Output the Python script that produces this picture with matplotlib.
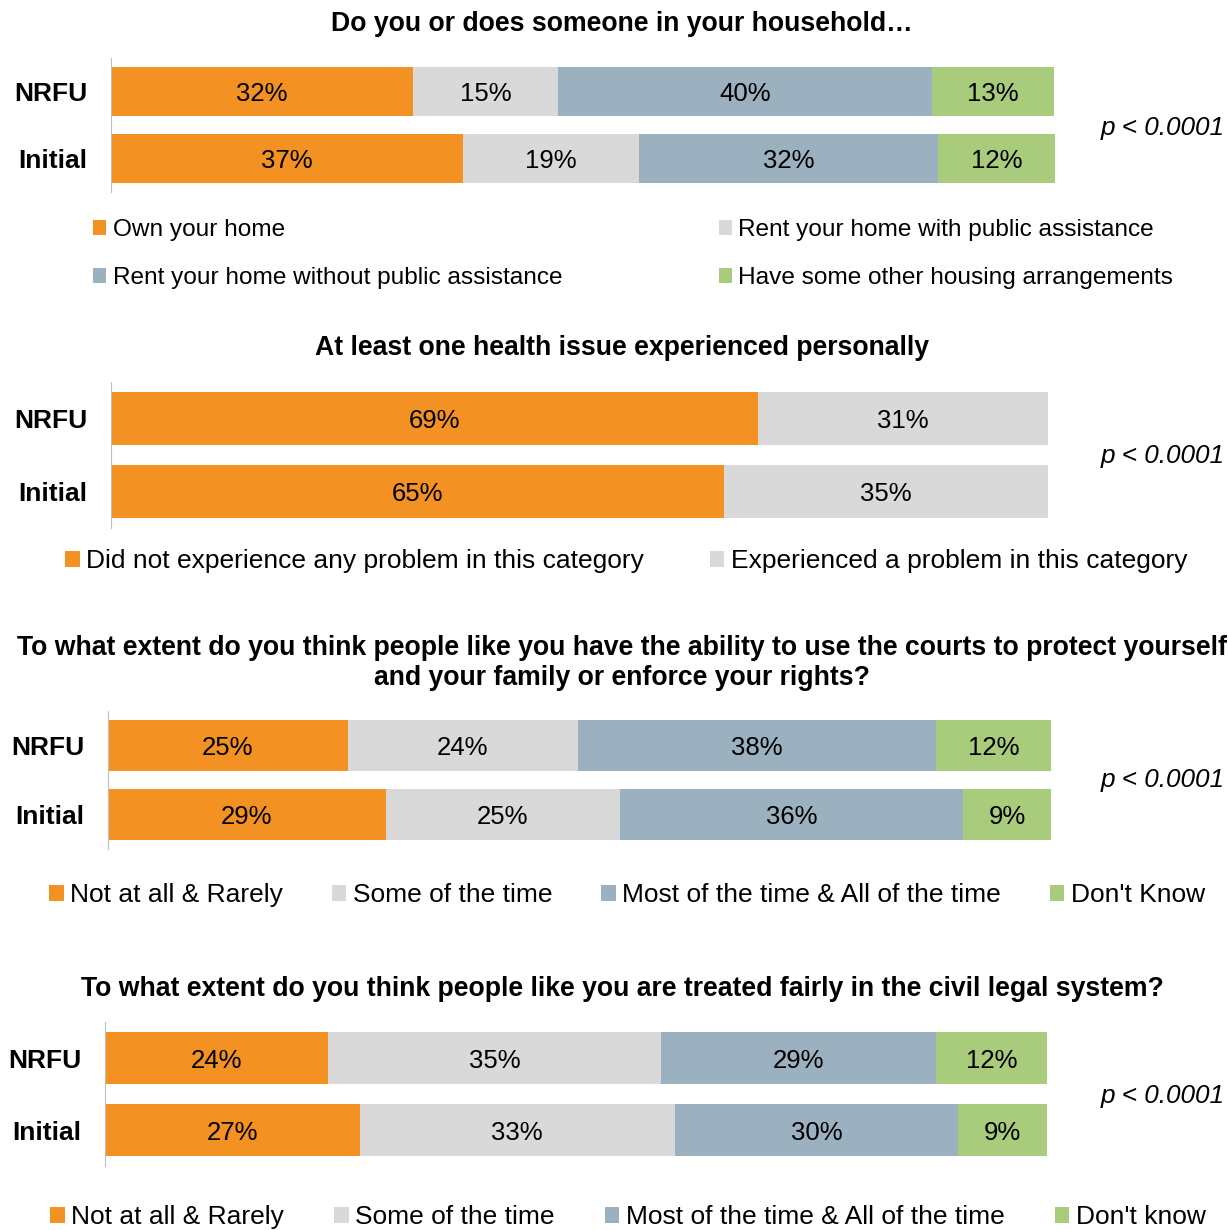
import matplotlib
matplotlib.use("Agg")
import matplotlib.pyplot as plt

plt.rcParams['font.family'] = ['Liberation Sans', 'DejaVu Sans']

W, H = 1228, 1230

ORANGE = '#F39122'
GRAY = '#D9D9D9'
BLUE = '#9BB1BF'
GREEN = '#A9CB7C'

rows = ['Initial', 'NRFU']
p_text = 'p < 0.0001'

# panel 1 - housing
title1 = 'Do you or does someone in your household\u2026'
labels1 = ['Own your home', 'Rent your home with public assistance',
           'Rent your home without public assistance', 'Have some other housing arrangements']
nrfu1 = [32.0, 15.4, 39.6, 12.9]
initial1 = [37.3, 18.6, 31.7, 12.4]

# panel 2 - health
title2 = 'At least one health issue experienced personally'
labels2 = ['Did not experience any problem in this category', 'Experienced a problem in this category']
nrfu2 = [69.0, 31.0]
initial2 = [65.4, 34.6]

# panel 3 - courts
title3 = ('To what extent do you think people like you have the ability to use the courts to protect yourself\n'
          'and your family or enforce your rights?')
labels3 = ['Not at all & Rarely', 'Some of the time', 'Most of the time & All of the time', "Don't Know"]
nrfu3 = [25.4, 24.4, 37.9, 12.2]
initial3 = [29.4, 24.8, 36.4, 9.3]

# panel 4 - fairness
title4 = 'To what extent do you think people like you are treated fairly in the civil legal system?'
labels4 = ['Not at all & Rarely', 'Some of the time', 'Most of the time & All of the time', "Don't know"]
nrfu4 = [23.6, 35.4, 29.1, 11.8]
initial4 = [27.0, 33.4, 30.1, 9.4]

colors4 = [ORANGE, GRAY, BLUE, GREEN]
colors2 = [ORANGE, GRAY]

fig = plt.figure(figsize=(W / 100, H / 100), dpi=100)


def box(x0, y0, x1, y1):
    # pixel box (top-left origin) -> figure fraction rect
    return [x0 / W, 1 - y1 / H, (x1 - x0) / W, (y1 - y0) / H]


def panel(rect, initial, nrfu, colors, bar_h, ylab_pad=17):
    ax = fig.add_axes(rect)
    left = [0, 0]
    handles = []
    for i, c in enumerate(colors):
        vals = [initial[i], nrfu[i]]
        bars = ax.barh([0, 1], vals, left=left, height=bar_h, color=c)
        txts = ax.bar_label(bars, labels=['%.0f%%' % v for v in vals], label_type='center', fontsize=18.5)
        for t in txts:
            t.set_va('center_baseline')
        handles.append(bars)
        left = [left[0] + vals[0], left[1] + vals[1]]
    ax.set_xlim(0, 100)
    ax.set_ylim(-0.5, 1.5)
    ax.set_yticks([0, 1])
    ax.set_yticklabels(rows, fontsize=19, fontweight='bold')
    ax.tick_params(axis='y', length=0, pad=ylab_pad)
    ax.set_xticks([])
    for s in ['top', 'right', 'bottom']:
        ax.spines[s].set_visible(False)
    ax.spines['left'].set_color('#BFBFBF')
    return ax, handles


def legend(handles, labels, x, y, ncol, fs, colsp, lsp=0.75):
    fig.legend(handles, labels, loc='center left', bbox_to_anchor=(x / W, 1 - y / H),
               ncol=ncol, frameon=False, fontsize=fs, borderpad=0, borderaxespad=0,
               handlelength=0.55, handleheight=0.55, handletextpad=0.25,
               columnspacing=colsp, labelspacing=lsp)


def title(text, y):
    fig.text(622 / W, 1 - y / H, text, ha='center', va='center', fontsize=19.2,
             fontweight='bold', multialignment='center', linespacing=1.16)


def pval(y):
    fig.text(1225 / W, 1 - y / H, p_text, ha='right', va='center_baseline', fontsize=18.8, style='italic')


# panel 1
title(title1, 24)
ax1, h1 = panel(box(111, 58, 1055, 192), initial1, nrfu1, colors4, 0.73)
pval(125)
legend([h1[0], h1[2], h1[1], h1[3]], [labels1[0], labels1[2], labels1[1], labels1[3]],
       93, 254, 2, 17.6, 6.4, lsp=1.05)

# panel 2
title(title2, 348)
ax2, h2 = panel(box(111, 382, 1048, 528), initial2, nrfu2, colors2, 0.726)
pval(453)
legend(h2, labels2, 65, 561, 2, 19, 2.5)

# panel 3
title(title3, 663)
ax3, h3 = panel(box(108, 711, 1052, 849), initial3, nrfu3, colors4, 0.725)
pval(778)
legend(h3, labels3, 49, 895, 4, 19, 1.85)

# panel 4
title(title4, 989)
ax4, h4 = panel(box(105, 1022, 1048, 1166), initial4, nrfu4, colors4, 0.72)
pval(1094)
legend(h4, labels4, 50, 1217, 4, 19, 1.9)

fig.savefig('out.png', dpi=100)
